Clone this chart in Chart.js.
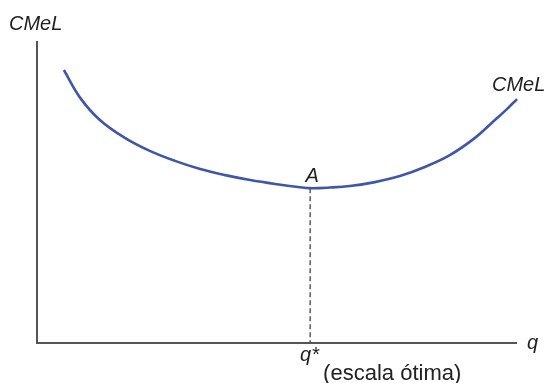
<!DOCTYPE html>
<html>
<head>
<meta charset="utf-8">
<script src="https://cdn.jsdelivr.net/npm/chart.js@4.4.1/dist/chart.umd.min.js"></script>
<style>
  html, body { margin: 0; padding: 0; background: #ffffff; }
  #wrap { width: 545px; height: 383px; }
</style>
</head>
<body>
<div id="wrap"><canvas id="c" width="545" height="383"></canvas></div>
<script>
// Quantity (x) and long-run average cost (y)
const quantity = [5.6, 9.0, 13.1, 18.3, 23.5, 28.75, 34.0, 39.2, 44.4, 49.6, 54.8, 56.9, 61.0, 65.2, 70.4, 75.6, 80.8, 86.0, 91.25, 95.4, 97.9, 100];
const cmelValues = [90.1, 80.9, 73.6, 67.7, 63.4, 60.1, 57.4, 55.4, 53.8, 52.5, 51.4, 51.1, 51.3, 51.8, 53.1, 55.1, 58.1, 62.0, 67.7, 73.6, 77.2, 80.5];
const optimalQ = [56.9, 56.9];
const optimalLine = [51.1, 0];
const axisTitles = { y: 'CMeL', x: 'q' };
const curveLabel = 'CMeL';
const pointLabel = 'A';
const qStarLabel = 'q*';
const qStarNote = '(escala ótima)';

const curveData = quantity.map((q, i) => ({ x: q, y: cmelValues[i] }));
const dashData = optimalQ.map((q, i) => ({ x: q, y: optimalLine[i] }));

const FONT = '"Liberation Sans", Arial, sans-serif';

const annot = {
  id: 'annot',
  beforeDatasetsDraw(chart) {
    const { ctx, chartArea: a } = chart;
    ctx.save();
    ctx.strokeStyle = '#555555';
    ctx.lineWidth = 2;
    ctx.beginPath();
    ctx.moveTo(a.left, a.top + 1);
    ctx.lineTo(a.left, a.bottom);
    ctx.lineTo(a.right, a.bottom);
    ctx.stroke();
    ctx.restore();
  },
  afterDatasetsDraw(chart) {
    const { ctx, chartArea: a, scales } = chart;
    const xs = scales.x, ys = scales.y;
    ctx.save();
    ctx.fillStyle = '#222222';
    ctx.textBaseline = 'alphabetic';
    ctx.font = 'italic 20px ' + FONT;
    ctx.textAlign = 'left';
    ctx.fillText(axisTitles.y, 9, 30);
    ctx.fillText(axisTitles.x, a.right + 10, a.bottom + 6);
    const last = curveData[curveData.length - 1];
    ctx.fillText(curveLabel, xs.getPixelForValue(last.x) - 25, ys.getPixelForValue(last.y) - 8);
    const px = xs.getPixelForValue(optimalQ[0]);
    const py = ys.getPixelForValue(optimalLine[0]);
    ctx.textAlign = 'center';
    ctx.fillText(pointLabel, px + 2, py - 6);
    ctx.textAlign = 'left';
    ctx.fillText(qStarLabel, px - 10, a.bottom + 18);
    ctx.font = '22px ' + FONT;
    ctx.fillText(qStarNote, px + 13, a.bottom + 37);
    ctx.restore();
  }
};

new Chart(document.getElementById('c'), {
  type: 'scatter',
  data: {
    datasets: [
      {
        data: curveData,
        showLine: true,
        borderColor: '#3f57a8',
        borderWidth: 2.6,
        pointRadius: 0,
        tension: 0.4,
        fill: false
      },
      {
        data: dashData,
        showLine: true,
        borderColor: '#444444',
        borderWidth: 1.3,
        borderDash: [5, 3],
        pointRadius: 0,
        fill: false
      }
    ]
  },
  options: {
    responsive: false,
    animation: false,
    layout: { padding: { left: 37, right: 28, top: 40, bottom: 40 } },
    plugins: { legend: { display: false }, tooltip: { enabled: false } },
    scales: {
      x: { type: 'linear', min: 0, max: 100, display: false },
      y: { type: 'linear', min: 0, max: 100, display: false }
    },
    clip: false
  },
  plugins: [annot]
});
</script>
</body>
</html>
